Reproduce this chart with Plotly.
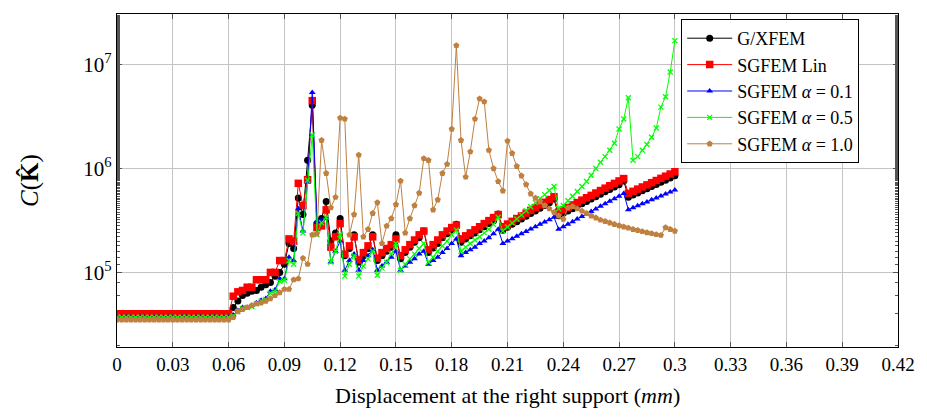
import plotly.graph_objects as go

disp = [0.0, 0.0025, 0.005, 0.0075, 0.01, 0.0125, 0.015, 0.0175, 0.02, 0.0225,
        0.025, 0.0275, 0.03, 0.0325, 0.035, 0.0375, 0.04, 0.0425, 0.045, 0.0475,
        0.05, 0.0525, 0.055, 0.0575, 0.06, 0.0625, 0.065, 0.0675, 0.07, 0.0725,
        0.075, 0.0775, 0.08, 0.0825, 0.085, 0.0875, 0.09, 0.0925, 0.095, 0.0975,
        0.1, 0.1025, 0.105, 0.1075, 0.11, 0.1125, 0.115, 0.1175, 0.12, 0.1225,
        0.125, 0.1275, 0.13, 0.1325, 0.135, 0.1375, 0.14, 0.1425, 0.145, 0.1475,
        0.15, 0.1525, 0.155, 0.1575, 0.16, 0.1625, 0.165, 0.1675, 0.17, 0.1725,
        0.175, 0.1775, 0.18, 0.1825, 0.185, 0.1875, 0.19, 0.1925, 0.195, 0.1975,
        0.2, 0.2025, 0.205, 0.2075, 0.21, 0.2125, 0.215, 0.2175, 0.22, 0.2225,
        0.225, 0.2275, 0.23, 0.2325, 0.235, 0.2375, 0.24, 0.2425, 0.245, 0.2475,
        0.25, 0.2525, 0.255, 0.2575, 0.26, 0.2625, 0.265, 0.2675, 0.27, 0.2725,
        0.275, 0.2775, 0.28, 0.2825, 0.285, 0.2875, 0.29, 0.2925, 0.295, 0.2975,
        0.3]

gxfem = [3.95e4, 3.95e4, 3.95e4, 3.95e4, 3.95e4, 3.95e4, 3.95e4, 3.95e4, 3.95e4, 3.95e4,
         3.95e4, 3.95e4, 3.95e4, 3.95e4, 3.95e4, 3.95e4, 3.95e4, 3.95e4, 3.95e4, 3.95e4,
         3.95e4, 3.95e4, 3.95e4, 3.95e4, 3.95e4, 4.6e4, 5.3e4, 6.0e4, 6.3e4, 6.6e4,
         6.7e4, 7.2e4, 7.6e4, 8.0e4, 9.2e4, 1.0e5, 1.2e5, 1.9e5, 1.7e5, 5.2e5,
         3.6e5, 1.2e6, 4.06e6, 2.95e5, 3.3e5, 4.8e5, 2.0e5, 2.4e5, 3.3e5, 1.45e5,
         1.7e5, 2.3e5, 1.25e5, 1.45e5, 1.7e5, 2.3e5, 1.3e5, 1.45e5, 1.6e5, 1.75e5,
         2.3e5, 1.35e5, 1.55e5, 1.75e5, 1.95e5, 2.15e5, 2.5e5, 1.55e5, 1.72e5, 1.9e5,
         2.15e5, 2.35e5, 2.55e5, 2.9e5, 1.95e5, 2.1e5, 2.25e5, 2.4e5, 2.57e5, 2.75e5,
         2.95e5, 3.15e5, 3.65e5, 2.55e5, 2.72e5, 2.9e5, 3.08e5, 3.27e5, 3.47e5, 3.68e5,
         3.9e5, 4.15e5, 4.4e5, 4.68e5, 5.1e5, 3.5e5, 3.7e5, 3.9e5, 4.1e5, 4.33e5,
         4.57e5, 4.82e5, 5.08e5, 5.36e5, 5.65e5, 5.96e5, 6.28e5, 6.62e5, 6.98e5, 7.6e5,
         5.3e5, 5.55e5, 5.82e5, 6.1e5, 6.4e5, 6.7e5, 7.02e5, 7.36e5, 7.72e5, 8.1e5,
         8.5e5]

sgfem_lin = [4.0e4, 4.0e4, 4.0e4, 4.0e4, 4.0e4, 4.0e4, 4.0e4, 4.0e4, 4.0e4, 4.0e4,
             4.0e4, 4.0e4, 4.0e4, 4.0e4, 4.0e4, 4.0e4, 4.0e4, 4.0e4, 4.0e4, 4.0e4,
             4.0e4, 4.0e4, 4.0e4, 4.0e4, 4.0e4, 5.9e4, 6.5e4, 6.7e4, 7.2e4, 7.2e4,
             8.5e4, 8.5e4, 8.5e4, 1.0e5, 1.0e5, 1.3e5, 1.3e5, 2.1e5, 2.0e5, 7.2e5,
             4.4e5, 7.8e5, 4.5e6, 2.7e5, 2.8e5, 4.0e5, 1.75e5, 2.2e5, 2.95e5, 1.5e5,
             1.8e5, 2.2e5, 1.32e5, 1.55e5, 1.8e5, 2.2e5, 1.37e5, 1.55e5, 1.7e5, 1.85e5,
             2.1e5, 1.45e5, 1.65e5, 1.85e5, 2.05e5, 2.3e5, 2.5e5, 1.65e5, 1.85e5, 2.05e5,
             2.3e5, 2.5e5, 2.7e5, 2.85e5, 2.1e5, 2.25e5, 2.4e5, 2.57e5, 2.75e5, 2.95e5,
             3.15e5, 3.37e5, 3.6e5, 2.75e5, 2.92e5, 3.1e5, 3.3e5, 3.5e5, 3.72e5, 3.95e5,
             4.2e5, 4.46e5, 4.73e5, 5.03e5, 5.35e5, 3.8e5, 4.0e5, 4.22e5, 4.46e5, 4.7e5,
             4.96e5, 5.23e5, 5.51e5, 5.81e5, 6.13e5, 6.47e5, 6.82e5, 7.19e5, 7.59e5, 8.0e5,
             5.75e5, 6.03e5, 6.33e5, 6.64e5, 6.96e5, 7.3e5, 7.66e5, 8.04e5, 8.43e5, 8.85e5,
             9.3e5]

sgfem_a01 = [3.7e4, 3.7e4, 3.7e4, 3.7e4, 3.7e4, 3.7e4, 3.7e4, 3.7e4, 3.7e4, 3.7e4,
             3.7e4, 3.7e4, 3.7e4, 3.7e4, 3.7e4, 3.7e4, 3.7e4, 3.7e4, 3.7e4, 3.7e4,
             3.7e4, 3.7e4, 3.7e4, 3.7e4, 3.7e4, 3.9e4, 4.3e4, 4.6e4, 4.6e4, 4.8e4,
             5.1e4, 5.4e4, 5.6e4, 6.6e4, 6.8e4, 8.7e4, 8.7e4, 1.4e5, 1.3e5, 4.1e5,
             2.5e5, 7.4e5, 5.4e6, 3.1e5, 3.2e5, 3.3e5, 1.26e5, 1.6e5, 2.0e5, 1.05e5,
             1.3e5, 1.5e5, 1.05e5, 1.3e5, 1.45e5, 1.65e5, 1.05e5, 1.15e5, 1.25e5, 1.4e5,
             1.6e5, 1.05e5, 1.15e5, 1.25e5, 1.35e5, 1.5e5, 1.6e5, 1.2e5, 1.3e5, 1.4e5,
             1.55e5, 1.7e5, 1.9e5, 2.1e5, 1.45e5, 1.55e5, 1.65e5, 1.75e5, 1.9e5, 2.0e5,
             2.15e5, 2.35e5, 2.6e5, 1.9e5, 2.0e5, 2.11e5, 2.23e5, 2.35e5, 2.48e5, 2.61e5,
             2.75e5, 2.9e5, 3.06e5, 3.22e5, 3.4e5, 2.6e5, 2.75e5, 2.91e5, 3.08e5, 3.26e5,
             3.45e5, 3.65e5, 3.86e5, 4.08e5, 4.32e5, 4.57e5, 4.84e5, 5.12e5, 5.42e5, 5.75e5,
             4.0e5, 4.18e5, 4.37e5, 4.57e5, 4.77e5, 4.99e5, 5.21e5, 5.45e5, 5.69e5, 5.95e5,
             6.2e5]

sgfem_a05 = [3.7e4, 3.7e4, 3.7e4, 3.7e4, 3.7e4, 3.7e4, 3.7e4, 3.7e4, 3.7e4, 3.7e4,
             3.7e4, 3.7e4, 3.7e4, 3.7e4, 3.7e4, 3.7e4, 3.7e4, 3.7e4, 3.7e4, 3.7e4,
             3.7e4, 3.7e4, 3.7e4, 3.7e4, 3.7e4, 3.8e4, 4.2e4, 4.5e4, 4.6e4, 4.7e4,
             5.0e4, 5.3e4, 5.5e4, 6.3e4, 6.6e4, 8.2e4, 8.4e4, 1.3e5, 1.2e5, 3.7e5,
             2.4e5, 7.7e5, 2.1e6, 2.3e5, 3.0e5, 3.4e5, 1.26e5, 1.6e5, 2.3e5, 9.2e4,
             1.2e5, 1.45e5, 9.2e4, 1.15e5, 1.35e5, 1.6e5, 9.4e4, 1.1e5, 1.25e5, 1.5e5,
             1.9e5, 1.05e5, 1.2e5, 1.35e5, 1.5e5, 1.7e5, 1.9e5, 1.25e5, 1.4e5, 1.6e5,
             1.8e5, 2.0e5, 2.3e5, 2.55e5, 1.6e5, 1.75e5, 1.9e5, 2.05e5, 2.2e5, 2.4e5,
             2.6e5, 2.9e5, 3.4e5, 2.5e5, 2.73e5, 2.99e5, 3.27e5, 3.58e5, 3.92e5, 4.28e5,
             4.69e5, 5.13e5, 5.6e5, 6.13e5, 6.7e5, 4.1e5, 4.4e5, 4.9e5, 5.4e5, 6.0e5,
             6.7e5, 7.5e5, 8.6e5, 1.0e6, 1.15e6, 1.3e6, 1.5e6, 1.75e6, 2.4e6, 3.0e6,
             4.8e6, 1.2e6, 1.3e6, 1.5e6, 1.7e6, 2.0e6, 2.45e6, 3.9e6, 4.9e6, 8.5e6,
             1.7e7]

sgfem_a10 = [3.5e4, 3.5e4, 3.5e4, 3.5e4, 3.5e4, 3.5e4, 3.5e4, 3.5e4, 3.5e4, 3.5e4,
             3.5e4, 3.5e4, 3.5e4, 3.5e4, 3.5e4, 3.5e4, 3.5e4, 3.5e4, 3.5e4, 3.5e4,
             3.5e4, 3.5e4, 3.5e4, 3.5e4, 3.5e4, 3.7e4, 4.2e4, 4.4e4, 4.6e4, 4.8e4,
             5.0e4, 5.1e4, 5.3e4, 5.6e4, 6.0e4, 6.4e4, 6.9e4, 6.9e4, 8.5e4, 8.7e4,
             1.37e5, 1.2e5, 2.3e5, 2.35e5, 1.87e6, 9.0e5, 4.2e5, 5.3e5, 3.07e6, 3.0e6,
             2.3e5, 3.6e5, 1.35e6, 2.2e5, 2.6e5, 3.7e5, 4.7e5, 1.9e5, 2.8e5, 3.3e5,
             4.5e5, 7.6e5, 2.4e5, 3.3e5, 4.4e5, 5.8e5, 1.25e6, 1.2e6, 4.0e5, 5.0e5,
             9.0e5, 1.1e6, 2.4e6, 1.53e7, 1.87e6, 8.3e5, 1.45e6, 3.0e6, 4.7e6, 4.4e6,
             1.5e6, 1.0e6, 7.5e5, 6.1e5, 1.84e6, 1.4e6, 1.05e6, 8.5e5, 7.0e5, 5.7e5,
             5.2e5, 4.8e5, 4.4e5, 4.1e5, 3.8e5, 3.5e5, 3.25e5, 4.2e5, 4.3e5, 4.1e5,
             3.9e5, 3.7e5, 3.5e5, 3.35e5, 3.2e5, 3.1e5, 3.0e5, 2.9e5, 2.82e5, 2.75e5,
             2.68e5, 2.6e5, 2.54e5, 2.48e5, 2.42e5, 2.37e5, 2.32e5, 2.28e5, 2.7e5, 2.6e5,
             2.5e5]

x_tickvals = [0, 0.03, 0.06, 0.09, 0.12, 0.15, 0.18, 0.21, 0.24, 0.27, 0.3, 0.33, 0.36, 0.39, 0.42]
x_ticktext = ["0", "0.03", "0.06", "0.09", "0.12", "0.15", "0.18", "0.21", "0.24", "0.27",
              "0.3", "0.33", "0.36", "0.39", "0.42"]
y_tickvals = [1e5, 1e6, 1e7]
y_ticktext = ["10<sup>5</sup>", "10<sup>6</sup>", "10<sup>7</sup>"]

NB = "\u00a0"
series = [
    ("G/XFEM", gxfem, "#000000", "circle", 7, 0),
    ("SGFEM Lin", sgfem_lin, "#ff0000", "square", 7.5, 0),
    ("SGFEM <i>α</i>" + NB + "=" + NB + "0.1", sgfem_a01, "#0000ff", "triangle-up", 6, 0),
    ("SGFEM <i>α</i>" + NB + "=" + NB + "0.5", sgfem_a05, "#00ff00", "x-thin", 5, 1.3),
    ("SGFEM <i>α</i>" + NB + "=" + NB + "1.0", sgfem_a10, "#bf8040", "pentagon", 6.5, 0),
]

FONT = "Liberation Serif, Times New Roman, serif"

fig = go.Figure()
for name, ys, color, sym, size, lw in series:
    marker = dict(symbol=sym, size=size, color=color)
    if lw:
        marker["line"] = dict(color=color, width=lw)
    else:
        marker["line"] = dict(width=0)
    fig.add_trace(go.Scatter(x=disp, y=ys, mode="lines+markers", name=name,
                             line=dict(color=color, width=1), marker=marker))

fig.update_layout(
    width=927, height=417,
    margin=dict(l=117, r=21, t=14, b=70),
    paper_bgcolor="white", plot_bgcolor="white",
    font=dict(family=FONT, size=18, color="black"),
    showlegend=True,
    legend=dict(x=0.7224, y=0.985, xanchor="left", yanchor="top",
                bgcolor="white", bordercolor="black", borderwidth=1,
                font=dict(family=FONT, size=18), itemwidth=45,
                tracegroupgap=0),
    annotations=[
        dict(text="Displacement at the right support (<i>mm</i>)", x=0.5, y=-0.147,
             xref="paper", yref="paper", xanchor="center", yanchor="middle",
             showarrow=False, font=dict(family=FONT, size=22)),
        dict(text="<i>C</i>(<b>K\u0302</b>)", x=-0.112, y=0.5,
             xref="paper", yref="paper", xanchor="center", yanchor="middle",
             textangle=-90, showarrow=False, font=dict(family=FONT, size=25)),
    ],
)

fig.update_xaxes(range=[0, 0.42], tickvals=x_tickvals, ticktext=x_ticktext,
                 showgrid=True, gridcolor="#c4c4c4", gridwidth=1,
                 showline=True, linecolor="black", linewidth=1.2, mirror="allticks",
                 ticks="inside", ticklen=5, tickcolor="#555555", zeroline=False,
                 tickfont=dict(family=FONT, size=19))
fig.update_yaxes(type="log", range=[4.282, 7.487], tickvals=y_tickvals, ticktext=y_ticktext,
                 showgrid=True, gridcolor="#c4c4c4", gridwidth=1,
                 showline=True, linecolor="black", linewidth=1.2, mirror="allticks",
                 ticks="inside", ticklen=5, tickcolor="#555555", zeroline=False,
                 tickfont=dict(family=FONT, size=21),
                 minor=dict(ticks="inside", ticklen=3, tickcolor="#555555", showgrid=False))

fig.write_html("out.html")
